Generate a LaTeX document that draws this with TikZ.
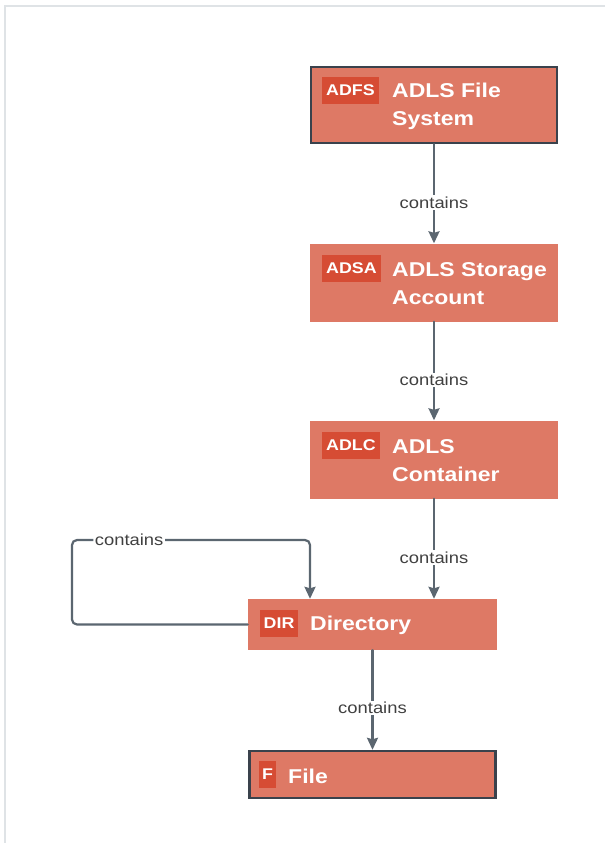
\documentclass[tikz,border=0pt]{standalone}
\usepackage{fontspec}
\setmainfont{Liberation Sans}
\newfontfamily\diagfont[FakeStretch=1.15]{Liberation Sans}
\usepackage{tikz}
\usetikzlibrary{arrows.meta}
\definecolor{boxc}{RGB}{222,121,101}
\definecolor{tagc}{RGB}{214,76,52}
\definecolor{edgec}{RGB}{58,66,76}
\definecolor{connc}{RGB}{91,102,112}
\definecolor{framec}{RGB}{223,227,230}

\begin{document}
\begin{tikzpicture}[x=1pt, y=-1pt, >=Stealth, line cap=round,
  entbox/.style={fill=boxc, minimum width=248pt, inner sep=0pt},
  heavy/.style={draw=edgec, line width=2.4pt},
  tagbox/.style={fill=tagc, text=white, font=\diagfont\bfseries\fontsize{15.5}{17}\selectfont,
    inner xsep=4pt, inner ysep=0pt, minimum height=27pt, anchor=west},
  title/.style={text=white, font=\diagfont\bfseries\fontsize{20}{28}\selectfont,
    inner sep=0pt, anchor=west, align=left},
  conn/.style={draw=connc, line width=2.2pt, -{Stealth[length=12pt, width=11pt, inset=1.5pt]}},
  lbl/.style={fill=white, text=black!75, font=\diagfont\fontsize{16}{18}\selectfont, inner sep=1.5pt}]

  % page frame: light rule along the top and the left edge only
  \useasboundingbox (0,0) rectangle (605,843);
  \draw[framec, line width=2pt, line cap=butt] (605,6) -- (5,6) -- (5,843);

  % entity boxes (outlined ones are the ends of the chain)
  \node[entbox, heavy, minimum width=246pt, minimum height=76pt] (adfs) at (434,105) {};
  \node[entbox, minimum height=78pt] (adsa) at (434,282.5) {};
  \node[entbox, minimum height=78pt] (adlc) at (434,459.5) {};
  \node[entbox, minimum width=249pt, minimum height=51pt] (dir) at (372.5,624.5) {};
  \node[entbox, heavy, minimum width=246pt, minimum height=47pt] (file) at (372.5,774.5) {};

  % type tags + names
  \node[tagbox] (adfsTag) at (322,90.5) {ADFS};
  \node[title] (adfsName) at (392,106) {ADLS File\\System};
  \node[tagbox] (adsaTag) at (322,268.5) {ADSA};
  \node[title] (adsaName) at (392,284) {ADLS Storage\\Account};
  \node[tagbox] (adlcTag) at (322,445.5) {ADLC};
  \node[title] (adlcName) at (392,461) {ADLS\\Container};
  \node[tagbox] (dirTag) at (259.5,623.5) {DIR};
  \node[title] (dirName) at (310,625.5) {Directory};
  \node[tagbox, inner xsep=3pt] (fileTag) at (259,774.5) {F};
  \node[title] (fileName) at (288,776) {File};

  % containment edges
  \draw[conn] (adfs.south) -- node[lbl, pos=0.59] {contains} (adsa.north);
  \draw[conn] (adsa.south) -- node[lbl, pos=0.59] {contains} (adlc.north);
  \draw[conn] (adlc.south) -- node[lbl, pos=0.59] {contains} (adlc.south |- dir.north);
  \draw[conn] (dir.south) -- node[lbl, pos=0.58] {contains} (file.north);

  % directory nests directories: loop round the left side
  \coordinate (loopL) at (72,540);
  \coordinate (loopR) at (310,540);
  \draw[conn, rounded corners=5pt] (dir.west) -| (loopL) -- node[lbl, pos=0.24] {contains} (loopR) -- (loopR |- dir.north);

\end{tikzpicture}
\end{document}
